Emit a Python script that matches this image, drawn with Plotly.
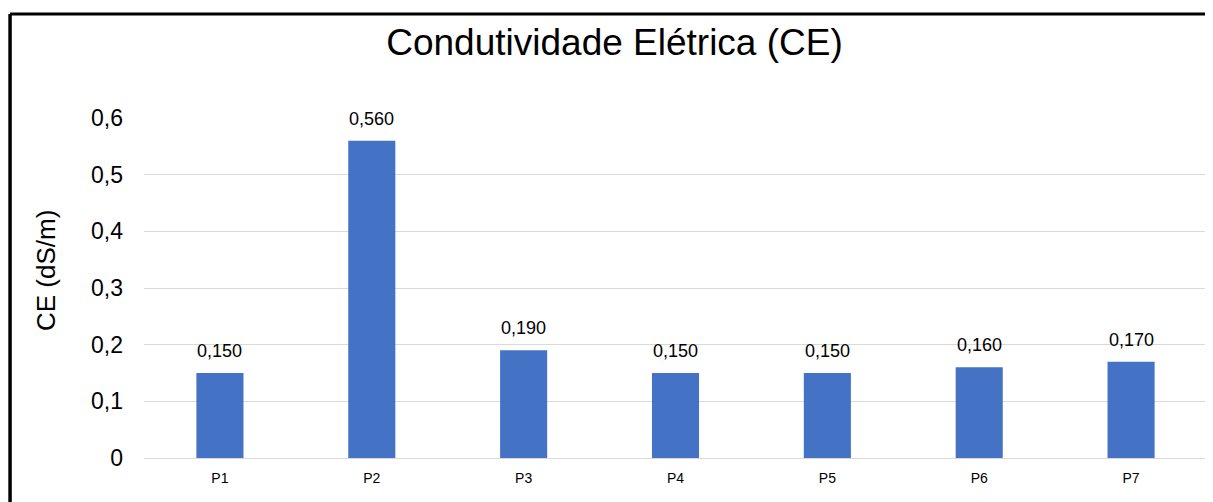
import plotly.graph_objects as go

# Data
pontos = ["P1", "P2", "P3", "P4", "P5", "P6", "P7"]
ce_valores = [0.150, 0.560, 0.190, 0.150, 0.150, 0.160, 0.170]
y_ticks = [0, 0.1, 0.2, 0.3, 0.4, 0.5, 0.6]

FONT = "Liberation Sans, Arial, sans-serif"

fig = go.Figure()

fig.add_trace(go.Bar(
    x=pontos, y=ce_valores,
    marker=dict(color="#4472C4", line=dict(width=0)),
    width=0.31,
    hovertemplate="%{x}: %{y:.3f}<extra></extra>",
))

# Data labels, Excel style (a bit higher above the bar than plotly's own)
for p, v in zip(pontos, ce_valores):
    fig.add_annotation(
        x=p, y=v, text=f"{v:.3f}".replace(".", ","),
        showarrow=False, yanchor="middle", yshift=22,
        font=dict(family=FONT, size=18, color="#000000"),
    )

# Y axis title as an annotation, it sits a little above the plot centre
fig.add_annotation(
    xref="paper", yref="paper", x=-0.0922, y=0.553,
    text="CE (dS/m)", textangle=-90, showarrow=False,
    xanchor="center", yanchor="middle",
    font=dict(family=FONT, size=26, color="#000000"),
)

# Chart border (the outer box is cropped on the right and bottom)
fig.add_shape(type="line", xref="paper", yref="paper",
              x0=-0.126, x1=-0.126, y0=-0.3, y1=1.306,
              line=dict(color="black", width=3.5))
fig.add_shape(type="line", xref="paper", yref="paper",
              x0=-0.126, x1=1.1, y0=1.306, y1=1.306,
              line=dict(color="black", width=3))

fig.update_layout(
    width=1213, height=502,
    separators=",.",
    paper_bgcolor="white",
    plot_bgcolor="white",
    showlegend=False,
    margin=dict(l=136, r=14, t=110, b=52),
    title=dict(text="Condutividade Elétrica (CE)", x=0.5, xanchor="center",
               y=0.932, yanchor="middle",
               font=dict(family=FONT, size=37, color="#000000")),
    font=dict(family=FONT, color="#000000"),
)

fig.update_xaxes(
    showgrid=False,
    showline=True, linecolor="#d9d9d9", linewidth=1,
    ticks="", tickfont=dict(family=FONT, size=14, color="#000000"),
    ticklabelstandoff=7,
)

fig.update_yaxes(
    range=[0, 0.6],
    tickvals=y_ticks,
    showgrid=True, gridcolor="#d9d9d9", gridwidth=1,
    zeroline=False, showline=False,
    ticks="", tickfont=dict(family=FONT, size=23, color="#000000"),
    ticklabelstandoff=20,
)

fig.write_html("out.html")
